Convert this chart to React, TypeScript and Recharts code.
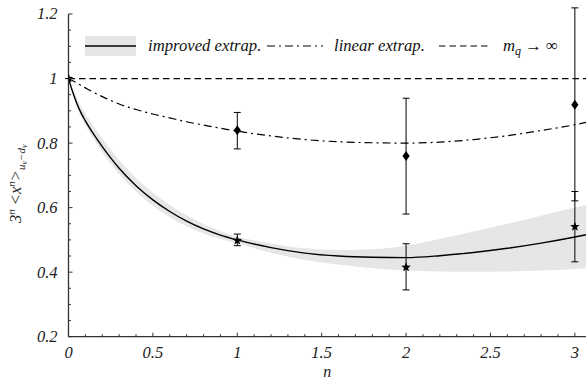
import React from "react";
import { ComposedChart, Line, Area, Scatter, XAxis, YAxis, ErrorBar, ReferenceLine, Legend } from "recharts";

// curve samples along n
const nGrid = [0, 0.025, 0.05, 0.075, 0.1, 0.15, 0.2, 0.25, 0.3, 0.4, 0.5, 0.6, 0.7, 0.8, 0.9, 1.0, 1.2, 1.4, 1.6, 1.8, 2.0, 2.2, 2.4, 2.6, 2.8, 3.0, 3.066];
const improvedCurve = [1.0, 0.958, 0.922, 0.893, 0.869, 0.827, 0.789, 0.754, 0.722, 0.668, 0.624, 0.588, 0.558, 0.534, 0.515, 0.5, 0.476, 0.459, 0.45, 0.446, 0.445, 0.451, 0.461, 0.474, 0.49, 0.509, 0.516];
const improvedBandLow = [1.0, 0.952, 0.912, 0.881, 0.855, 0.811, 0.772, 0.736, 0.704, 0.65, 0.606, 0.571, 0.542, 0.52, 0.503, 0.49, 0.46, 0.438, 0.424, 0.412, 0.405, 0.402, 0.401, 0.402, 0.405, 0.41, 0.412];
const improvedBandHigh = [1.0, 0.968, 0.938, 0.913, 0.891, 0.851, 0.814, 0.779, 0.747, 0.692, 0.646, 0.608, 0.576, 0.549, 0.527, 0.51, 0.489, 0.474, 0.469, 0.471, 0.482, 0.503, 0.526, 0.55, 0.575, 0.6, 0.608];
const linearCurve = [1.0, 0.993, 0.986, 0.978, 0.971, 0.957, 0.944, 0.932, 0.921, 0.904, 0.89, 0.878, 0.866, 0.856, 0.846, 0.837, 0.822, 0.811, 0.804, 0.801, 0.8, 0.803, 0.811, 0.823, 0.839, 0.857, 0.864];
const heavyQuarkLimit = 1;

// lattice points (stars = improved, diamonds = linear)
const starN = [0, 1, 2, 3];
const starValues = [1.0, 0.498, 0.415, 0.541];
const starErrLow = [0, 0.016, 0.07, 0.109];
const starErrHigh = [0, 0.02, 0.073, 0.109];

const diamondN = [1, 2, 3];
const diamondValues = [0.84, 0.76, 0.919];
const diamondErrLow = [0.058, 0.18, 0.298];
const diamondErrHigh = [0.055, 0.179, 0.3];

// axes
const xDomain = [0, 3.066];
const yDomain = [0.2, 1.2];
const xTicks = [0, 0.1, 0.2, 0.3, 0.4, 0.5, 0.6, 0.7, 0.8, 0.9, 1, 1.1, 1.2, 1.3, 1.4, 1.5, 1.6, 1.7, 1.8, 1.9, 2, 2.1, 2.2, 2.3, 2.4, 2.5, 2.6, 2.7, 2.8, 2.9, 3];
const xLabelTicks = [0, 0.5, 1, 1.5, 2, 2.5, 3];
const yTicks = [0.2, 0.25, 0.3, 0.35, 0.4, 0.45, 0.5, 0.55, 0.6, 0.65, 0.7, 0.75, 0.8, 0.85, 0.9, 0.95, 1, 1.05, 1.1, 1.15, 1.2];
const yLabelTicks = [0.2, 0.4, 0.6, 0.8, 1, 1.2];

const curveData = nGrid.map((n, i) => ({
  n,
  improved: improvedCurve[i],
  band: [improvedBandLow[i], improvedBandHigh[i]],
  linear: linearCurve[i],
}));
const starData = starN.map((n, i) => ({ n, v: starValues[i], err: [starErrLow[i], starErrHigh[i]] }));
const diamondData = diamondN.map((n, i) => ({ n, v: diamondValues[i], err: [diamondErrLow[i], diamondErrHigh[i]] }));

const FONT = "'Liberation Serif', 'Times New Roman', serif";
const AXIS = "#333";

const BottomTick = (props: any) => {
  const { x, y, payload } = props;
  const major = xLabelTicks.includes(payload.value);
  return (
    <g>
      <line x1={x} x2={x} y1={y} y2={y - (major ? 4 : 2.5)} stroke={AXIS} strokeWidth={1} />
      {major && (
        <text x={x} y={y + 21} textAnchor="middle" fontFamily={FONT} fontStyle="italic" fontSize={16.5} fill="#222">
          {payload.value}
        </text>
      )}
    </g>
  );
};

const TopTick = (props: any) => {
  const { x, y, payload } = props;
  const major = xLabelTicks.includes(payload.value);
  return <line x1={x} x2={x} y1={y} y2={y + (major ? 4 : 2.5)} stroke={AXIS} strokeWidth={1} />;
};

const LeftTick = (props: any) => {
  const { x, y, payload } = props;
  const major = yLabelTicks.includes(payload.value);
  return (
    <g>
      <line x1={x} x2={x + (major ? 4 : 2.5)} y1={y} y2={y} stroke={AXIS} strokeWidth={1} />
      {major && (
        <text x={x - 11} y={y} dy="0.33em" textAnchor="end" fontFamily={FONT} fontStyle="italic" fontSize={16.5} fill="#222">
          {payload.value}
        </text>
      )}
    </g>
  );
};

const Star = (props: any) => {
  const { cx, cy } = props;
  const pts: string[] = [];
  for (let k = 0; k < 10; k++) {
    const r = k % 2 === 0 ? 5 : 2.1;
    const a = -Math.PI / 2 + (k * Math.PI) / 5;
    pts.push(`${cx + r * Math.cos(a)},${cy + r * Math.sin(a)}`);
  }
  return <polygon points={pts.join(" ")} fill="#000" />;
};

const Diamond = (props: any) => {
  const { cx, cy } = props;
  return <polygon points={`${cx},${cy - 5} ${cx + 3.6},${cy} ${cx},${cy + 5} ${cx - 3.6},${cy}`} fill="#000" />;
};

const LegendBox = () => (
  <svg width={586} height={40} style={{ display: "block" }}>
    <rect x={85} y={10} width={51} height={20} fill="#e6e6e6" />
    <line x1={85} x2={136} y1={20} y2={20} stroke="#000" strokeWidth={1.5} />
    <text x={148} y={25} fontFamily={FONT} fontStyle="italic" fontSize={16.7} fill="#111">improved extrap.</text>
    <line x1={267} x2={323} y1={20} y2={20} stroke="#000" strokeWidth={1.2} strokeDasharray="8 4 2 4" />
    <text x={334} y={25} fontFamily={FONT} fontStyle="italic" fontSize={16.7} fill="#111">linear extrap.</text>
    <line x1={439} x2={488} y1={20} y2={20} stroke="#000" strokeWidth={1.2} strokeDasharray="6.5 4" />
    <text x={503} y={25} fontFamily={FONT} fontSize={16.7} fill="#111">
      <tspan fontStyle="italic">m</tspan>
      <tspan fontStyle="italic" fontSize={12} dy={4}>q</tspan>
      <tspan dy={-4}> → ∞</tspan>
    </text>
  </svg>
);

const YLabel = () => (
  <text transform="rotate(-90)" x={-223} y={21} textAnchor="start" fontFamily={FONT} fontStyle="italic" fontSize={16.5} fill="#222">
    <tspan>3</tspan>
    <tspan fontSize={11} dy={-6}>n</tspan>
    <tspan dy={6}> {"<"}x</tspan>
    <tspan fontSize={11} dy={-6}>n</tspan>
    <tspan dy={6}>{">"}</tspan>
    <tspan fontSize={11} dy={4}>u</tspan>
    <tspan fontSize={8} dy={2}>v</tspan>
    <tspan fontSize={11} dy={-2}>−d</tspan>
    <tspan fontSize={8} dy={2}>v</tspan>
  </text>
);

const XLabel = (props: any) => {
  const { viewBox } = props;
  return (
    <text x={viewBox.x + viewBox.width / 2} y={viewBox.y + 40} textAnchor="middle" fontFamily={FONT} fontStyle="italic" fontSize={16} fill="#222">
      n
    </text>
  );
};

export default function App() {
  return (
    <div style={{ position: "absolute", left: 0, top: 0, width: 586, height: 379, background: "#fff" }}>
      <ComposedChart width={586} height={379} data={curveData} margin={{ top: 14, right: 0, bottom: 0, left: 0 }}>
        <XAxis
          dataKey="n"
          type="number"
          domain={xDomain}
          ticks={xTicks}
          interval={0}
          allowDataOverflow
          height={42.3}
          tickSize={0}
          tickMargin={0}
          tickLine={false}
          axisLine={{ stroke: AXIS, strokeWidth: 1.3 }}
          tick={<BottomTick />}
          label={<XLabel />}
        />
        <XAxis
          xAxisId="top"
          orientation="top"
          dataKey="n"
          type="number"
          domain={xDomain}
          ticks={xTicks}
          interval={0}
          allowDataOverflow
          height={0}
          tickSize={0}
          tickMargin={0}
          tickLine={false}
          axisLine={{ stroke: AXIS, strokeWidth: 1.3 }}
          tick={<TopTick />}
        />
        <YAxis
          type="number"
          domain={yDomain}
          ticks={yTicks}
          interval={0}
          allowDataOverflow
          width={68.5}
          tickSize={0}
          tickMargin={0}
          tickLine={false}
          axisLine={{ stroke: AXIS, strokeWidth: 1.3 }}
          tick={<LeftTick />}
          label={<YLabel />}
        />
        <Legend
          layout="horizontal"
          verticalAlign="middle"
          align="center"
          wrapperStyle={{ left: 0, top: 26, width: 586, height: 40 }}
          content={() => <LegendBox />}
        />
        <Area
          type="monotone"
          dataKey="band"
          stroke="none"
          fill="#e6e6e6"
          fillOpacity={1}
          isAnimationActive={false}
          activeDot={false}
        />
        <ReferenceLine y={heavyQuarkLimit} stroke="#000" strokeWidth={1.2} strokeDasharray="6.5 4" />
        <Line
          type="monotone"
          dataKey="linear"
          stroke="#000"
          strokeWidth={1.2}
          strokeDasharray="8 4 2 4"
          dot={false}
          activeDot={false}
          isAnimationActive={false}
        />
        <Line
          type="monotone"
          dataKey="improved"
          stroke="#000"
          strokeWidth={1.4}
          dot={false}
          activeDot={false}
          isAnimationActive={false}
        />
        <Scatter data={diamondData} dataKey="v" shape={<Diamond />} isAnimationActive={false}>
          <ErrorBar dataKey="err" direction="y" width={3.5} stroke="#000" strokeWidth={1} />
        </Scatter>
        <Scatter data={starData} dataKey="v" shape={<Star />} isAnimationActive={false}>
          <ErrorBar dataKey="err" direction="y" width={3.5} stroke="#000" strokeWidth={1} />
        </Scatter>
      </ComposedChart>
    </div>
  );
}
